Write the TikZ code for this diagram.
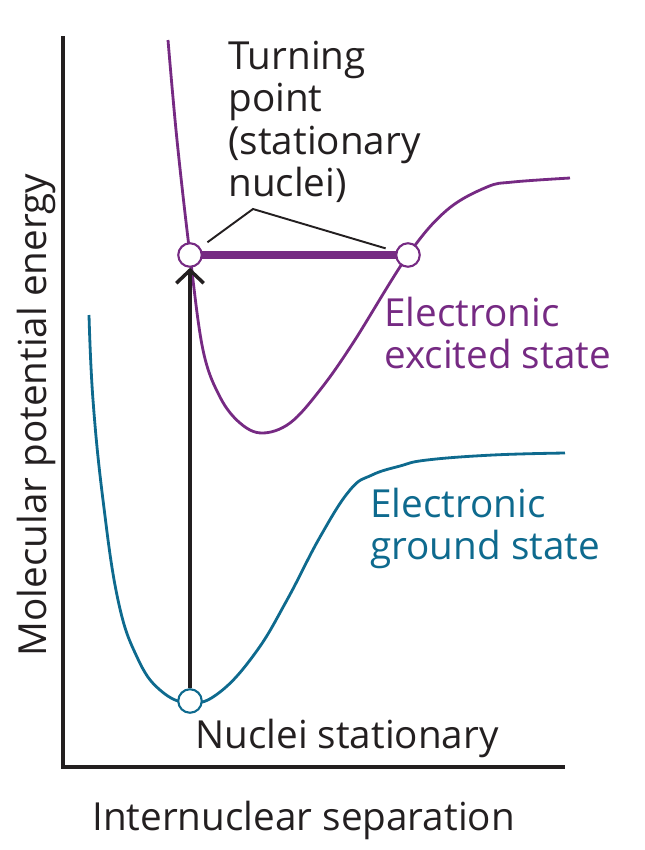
\documentclass[tikz,border=0pt]{standalone}
\usepackage{fontspec}
\setmainfont{Open Sans}
\usepackage{xcolor}
\usetikzlibrary{arrows.meta, calc}
\definecolor{excited}{HTML}{762A83}
\definecolor{ground}{HTML}{0E6A8E}
\definecolor{ink}{HTML}{231F20}
\tikzset{
    curve/.style={line width=1.6pt, line join=round},
    turnpt/.style={circle, draw, fill=white, line width=1.2pt, minimum size=0.47cm, inner sep=0pt},
    label/.style={inner sep=0pt, align=left, font=\fontsize{22}{24}\selectfont},
}
\begin{document}
\begin{tikzpicture}[x=0.02cm, y=-0.02cm]
    \useasboundingbox (0,0) rectangle (645,850);
    % axes
    \draw[ink, line width=2.2pt] (63,36) -- (63,767) -- (565,767);
    \node[label, rotate=90, anchor=base, text=ink] (ylab) at (47,415) {Molecular potential energy};
    \node[label, anchor=base west, text=ink] (xlab) at (92,830) {Internuclear separation};
    % ground state
    \draw[curve, ground] plot[smooth, tension=0.7] coordinates {
        (89,315) (93,400) (103,500) (118,600) (137,657) (160,690) (190,703)
        (220,692) (256,652) (287,600) (320,537) (350,490) (372,475) (400,466) (427,460) (493,455) (565,453)};
    % excited state
    \draw[curve, excited] plot[smooth, tension=0.6] coordinates {
        (168,40) (177,140) (190,255) (203,350) (220,397) (240,423) (262,433)
        (290,423) (320,390) (353,343) (408,255) (447,210) (487,187) (513,182) (570,178)};
    % turning points
    \draw[excited, line width=4.2pt] (190,255) -- (408,255);
    \node[turnpt, draw=excited] (tl) at (190,255) {};
    \node[turnpt, draw=excited] (tr) at (408,255) {};
    \node[turnpt, draw=ground] (gmin) at (190,701) {};
    % vertical transition
    \draw[ink, line width=2pt, -{Straight Barb[length=0.26cm, width=0.55cm, line width=2pt]}] (gmin) -- (tl);
    % labels
    \coordinate (tp) at (253,209);
    \draw[ink, line width=1.1pt, shorten <=5pt, shorten >=6pt] (tl) -- (tp) -- (tr);
    \node[label, anchor=north west, text=ink] (turn) at (228,41) {Turning\\point\\(stationary\\nuclei)};
    \node[label, anchor=north west, text=excited] (exlab) at (384,297) {Electronic\\excited state};
    \node[label, anchor=north west, text=ground] (grlab) at (370,488) {Electronic\\ground state};
    \node[label, anchor=base west, text=ink] (nuc) at (195,748) {Nuclei stationary};
\end{tikzpicture}
\end{document}
